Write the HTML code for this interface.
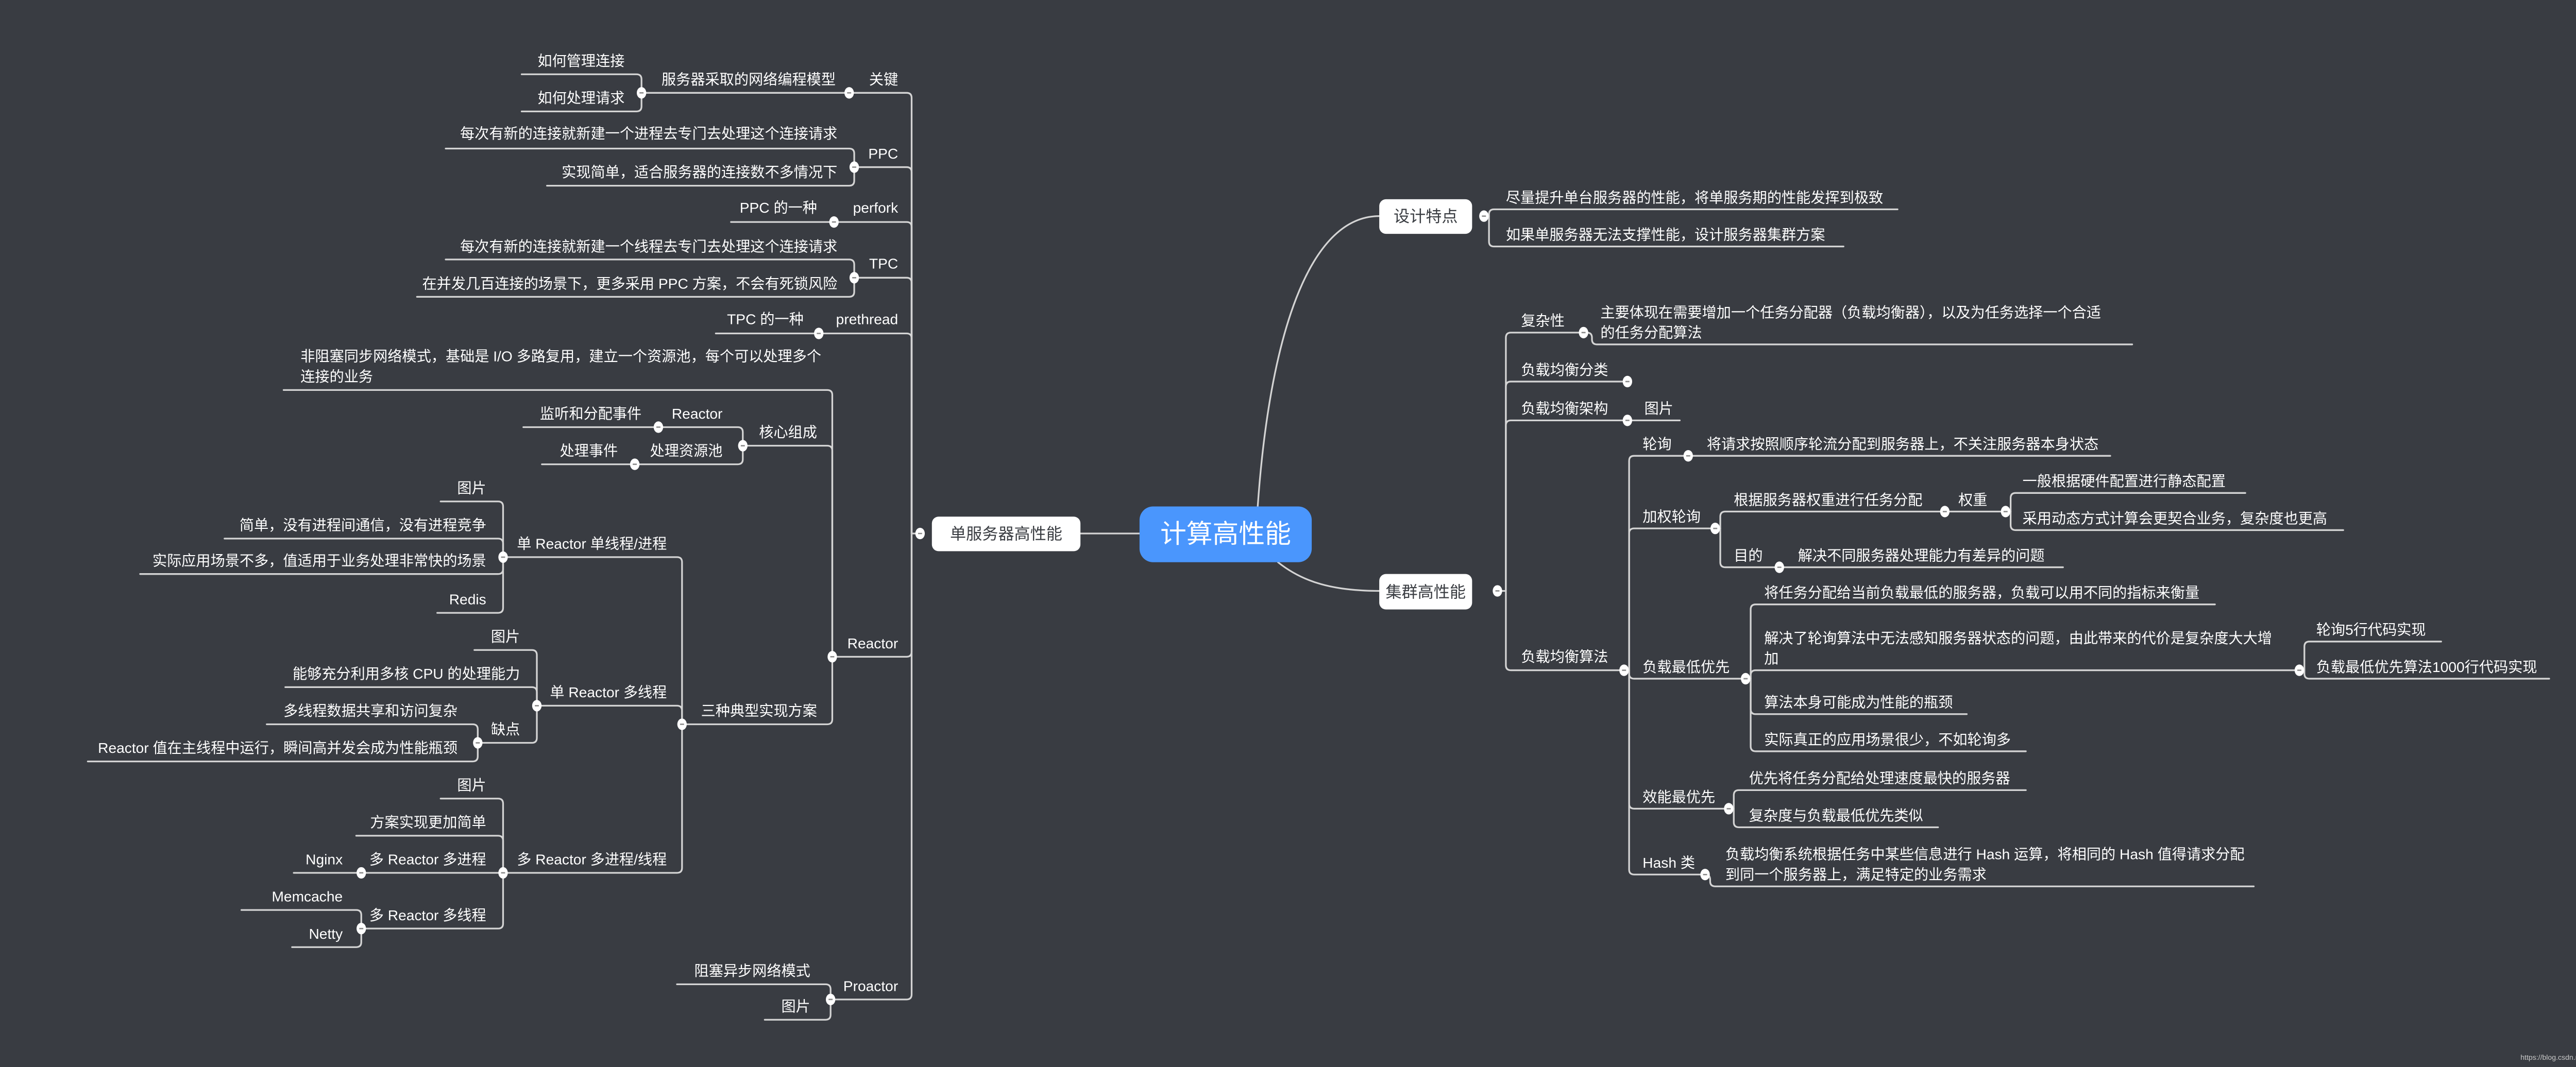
<!DOCTYPE html>
<html><head><meta charset="utf-8"><style>
html,body{margin:0;padding:0;background:#393c42;}
svg{display:block}
text{font-family:"Liberation Sans","Noto Sans CJK SC",sans-serif;font-size:8.6px;fill:#ffffff}
.e{text-anchor:end}
.ln{fill:none;stroke:#d4d4d4;stroke-width:1;stroke-linecap:round}
.c{fill:#ffffff}
.d{stroke:#8a8a8a;stroke-width:0.8}
</style></head><body>
<svg width="5138" height="2072" viewBox="0 0 1568 632" preserveAspectRatio="none" xmlns="http://www.w3.org/2000/svg">
<rect width="1568" height="632" fill="#393c42"/>
<g class="ln">
<path d="M640 316 H675"/>
<path d="M745 300 C752 200 775 128 817 128"/>
<path d="M757 333 C772 345 790 350 817 350"/>
<path d="M545 316 H540"/>
<path d="M503 55 H537 Q540 55 540 58 V316"/>
<path d="M506 99 H537 Q540 99 540 102 V316"/>
<path d="M494 131.5 H537 Q540 131.5 540 134.5 V316"/>
<path d="M506 164.5 H537 Q540 164.5 540 167.5 V316"/>
<path d="M485 197.5 H537 Q540 197.5 540 200.5 V316"/>
<path d="M493 389 H537 Q540 389 540 386 V316"/>
<path d="M492 592 H537 Q540 592 540 589 V316"/>
<path d="M380 55 H503"/>
<path d="M309 44 H377 Q380 44 380 47 V55"/>
<path d="M309 66 H377 Q380 66 380 63 V55"/>
<path d="M264 88 H503 Q506 88 506 91 V99"/>
<path d="M324 110 H503 Q506 110 506 107 V99"/>
<path d="M433 131.5 H494"/>
<path d="M264 153.7 H503 Q506 153.7 506 156.7 V164.5"/>
<path d="M247 175.8 H503 Q506 175.8 506 172.8 V164.5"/>
<path d="M424 197.5 H485"/>
<path d="M168 231 H490 Q493 231 493 234 V389"/>
<path d="M440 264 H490 Q493 264 493 267 V389"/>
<path d="M404 429 H490 Q493 429 493 426 V389"/>
<path d="M390 253 H437 Q440 253 440 256 V264"/>
<path d="M376 275 H437 Q440 275 440 272 V264"/>
<path d="M310 253 H390"/>
<path d="M321 275 H376"/>
<path d="M298 330 H401 Q404 330 404 333 V429"/>
<path d="M318 418 H401 Q404 418 404 421 V429"/>
<path d="M298 517 H401 Q404 517 404 514 V429"/>
<path d="M261 297 H295 Q298 297 298 300 V330"/>
<path d="M133 319 H295 Q298 319 298 322 V330"/>
<path d="M83 340 H295 Q298 340 298 337 V330"/>
<path d="M259 363 H295 Q298 363 298 360 V330"/>
<path d="M281 385 H315 Q318 385 318 388 V418"/>
<path d="M169 407 H315 Q318 407 318 410 V418"/>
<path d="M283 440 H315 Q318 440 318 437 V418"/>
<path d="M158 429 H280 Q283 429 283 432 V440"/>
<path d="M52 451 H280 Q283 451 283 448 V440"/>
<path d="M261 473 H295 Q298 473 298 476 V517"/>
<path d="M211 495 H295 Q298 495 298 498 V517"/>
<path d="M214 517 H298"/>
<path d="M214 550 H295 Q298 550 298 547 V517"/>
<path d="M174 517 H214"/>
<path d="M143 539 H211 Q214 539 214 542 V550"/>
<path d="M173 561 H211 Q214 561 214 558 V550"/>
<path d="M401 583 H489 Q492 583 492 586 V592"/>
<path d="M453 604 H489 Q492 604 492 601 V592"/>
<path d="M879 128 H882"/>
<path d="M1124 124 H885 Q882 124 882 127 V128"/>
<path d="M1092 146 H885 Q882 146 882 143 V128"/>
<path d="M887 350 H892"/>
<path d="M938 197 H895 Q892 197 892 200 V350"/>
<path d="M964 226 H895 Q892 226 892 229 V350"/>
<path d="M964 249 H895 Q892 249 892 252 V350"/>
<path d="M962 397 H895 Q892 397 892 394 V350"/>
<path d="M938 197 H940 Q943 197 943 200 V201 Q943 204 946 204 H1263"/>
<path d="M964 249 H995"/>
<path d="M962 397 H965"/>
<path d="M1000 270 H968 Q965 270 965 273 V397"/>
<path d="M1016 313 H968 Q965 313 965 316 V397"/>
<path d="M1034 402 H968 Q965 402 965 399 V397"/>
<path d="M1024 479 H968 Q965 479 965 476 V397"/>
<path d="M1010 518 H968 Q965 518 965 515 V397"/>
<path d="M1000 270 H1250"/>
<path d="M1016 313 H1019"/>
<path d="M1152 303 H1022 Q1019 303 1019 306 V313"/>
<path d="M1054 336 H1022 Q1019 336 1019 333 V313"/>
<path d="M1152 303 H1188"/>
<path d="M1188 303 H1191"/>
<path d="M1330 292 H1194 Q1191 292 1191 295 V303"/>
<path d="M1388 314 H1194 Q1191 314 1191 311 V303"/>
<path d="M1054 336 H1222"/>
<path d="M1034 402 H1037"/>
<path d="M1312 358 H1040 Q1037 358 1037 361 V402"/>
<path d="M1362 397 H1040 Q1037 397 1037 400 V402"/>
<path d="M1165 423 H1040 Q1037 423 1037 420 V402"/>
<path d="M1200 445 H1040 Q1037 445 1037 442 V402"/>
<path d="M1362 397 H1365"/>
<path d="M1446 380 H1368 Q1365 380 1365 383 V397"/>
<path d="M1510 402 H1368 Q1365 402 1365 399 V397"/>
<path d="M1024 479 H1027"/>
<path d="M1200 468 H1030 Q1027 468 1027 471 V479"/>
<path d="M1148 490 H1030 Q1027 490 1027 487 V479"/>
<path d="M1010 518 Q1013 518 1013 521 V522 Q1013 525 1016 525 H1335"/>
</g>

<rect x="675" y="300" width="102" height="33" rx="8" fill="#4a96fd"/>
<text x="726" y="321.5" style="font-size:15.5px;text-anchor:middle">计算高性能</text>
<rect x="552" y="306" width="88" height="20.5" rx="4" fill="#ffffff"/>
<text x="596" y="319.5" style="font-size:9.5px;text-anchor:middle;fill:#3a3d42">单服务器高性能</text>
<rect x="817" y="118" width="55" height="20.5" rx="4" fill="#ffffff"/>
<text x="844.5" y="131.5" style="font-size:9.5px;text-anchor:middle;fill:#3a3d42">设计特点</text>
<rect x="817" y="340" width="55" height="21" rx="4" fill="#ffffff"/>
<text x="844.5" y="354" style="font-size:9.5px;text-anchor:middle;fill:#3a3d42">集群高性能</text>

<g>
<ellipse class="c" cx="503" cy="55" rx="2.8" ry="3.4"/><ellipse class="c" cx="380" cy="55" rx="2.8" ry="3.4"/>
<ellipse class="c" cx="506" cy="99" rx="2.8" ry="3.4"/><ellipse class="c" cx="494" cy="131.5" rx="2.8" ry="3.4"/>
<ellipse class="c" cx="506" cy="164.5" rx="2.8" ry="3.4"/><ellipse class="c" cx="485" cy="197.5" rx="2.8" ry="3.4"/>
<ellipse class="c" cx="493" cy="389" rx="2.8" ry="3.4"/><ellipse class="c" cx="440" cy="264" rx="2.8" ry="3.4"/>
<ellipse class="c" cx="390" cy="253" rx="2.8" ry="3.4"/><ellipse class="c" cx="376" cy="275" rx="2.8" ry="3.4"/>
<ellipse class="c" cx="404" cy="429" rx="2.8" ry="3.4"/><ellipse class="c" cx="298" cy="330" rx="2.8" ry="3.4"/>
<ellipse class="c" cx="318" cy="418" rx="2.8" ry="3.4"/><ellipse class="c" cx="283" cy="440" rx="2.8" ry="3.4"/>
<ellipse class="c" cx="298" cy="517" rx="2.8" ry="3.4"/><ellipse class="c" cx="214" cy="517" rx="2.8" ry="3.4"/>
<ellipse class="c" cx="214" cy="550" rx="2.8" ry="3.4"/><ellipse class="c" cx="492" cy="592" rx="2.8" ry="3.4"/>
<ellipse class="c" cx="545" cy="316" rx="2.8" ry="3.4"/>
<ellipse class="c" cx="879" cy="128" rx="2.8" ry="3.4"/><ellipse class="c" cx="887" cy="350" rx="2.8" ry="3.4"/>
<ellipse class="c" cx="938" cy="197" rx="2.8" ry="3.4"/><ellipse class="c" cx="964" cy="226" rx="2.8" ry="3.4"/>
<ellipse class="c" cx="964" cy="249" rx="2.8" ry="3.4"/><ellipse class="c" cx="962" cy="397" rx="2.8" ry="3.4"/>
<ellipse class="c" cx="1000" cy="270" rx="2.8" ry="3.4"/><ellipse class="c" cx="1016" cy="313" rx="2.8" ry="3.4"/>
<ellipse class="c" cx="1152" cy="303" rx="2.8" ry="3.4"/><ellipse class="c" cx="1188" cy="303" rx="2.8" ry="3.4"/>
<ellipse class="c" cx="1054" cy="336" rx="2.8" ry="3.4"/><ellipse class="c" cx="1034" cy="402" rx="2.8" ry="3.4"/>
<ellipse class="c" cx="1362" cy="397" rx="2.8" ry="3.4"/><ellipse class="c" cx="1024" cy="479" rx="2.8" ry="3.4"/>
<ellipse class="c" cx="1010" cy="518" rx="2.8" ry="3.4"/>
</g>
<g class="d">
<path d="M501.8 55H504.2M378.8 55H381.2M504.8 99H507.2M492.8 131.5H495.2M504.8 164.5H507.2M483.8 197.5H486.2M491.8 389H494.2M438.8 264H441.2M388.8 253H391.2M374.8 275H377.2M402.8 429H405.2M296.8 330H299.2M316.8 418H319.2M281.8 440H284.2M296.8 517H299.2M212.8 517H215.2M212.8 550H215.2M490.8 592H493.2M543.8 316H546.2M877.8 128H880.2M885.8 350H888.2M936.8 197H939.2M962.8 226H965.2M962.8 249H965.2M960.8 397H963.2M998.8 270H1001.2M1014.8 313H1017.2M1150.8 303H1153.2M1186.8 303H1189.2M1052.8 336H1055.2M1032.8 402H1035.2M1360.8 397H1363.2M1022.8 479H1025.2M1008.8 518H1011.2"/>
</g>

<text class="e" x="532" y="50">关键</text>
<text class="e" x="495" y="50">服务器采取的网络编程模型</text>
<text class="e" x="370" y="39">如何管理连接</text>
<text class="e" x="370" y="61">如何处理请求</text>
<text class="e" x="532" y="94">PPC</text>
<text class="e" x="496" y="82">每次有新的连接就新建一个进程去专门去处理这个连接请求</text>
<text class="e" x="496" y="105">实现简单，适合服务器的连接数不多情况下</text>
<text class="e" x="532" y="126">perfork</text>
<text class="e" x="484" y="126">PPC 的一种</text>
<text class="e" x="532" y="159">TPC</text>
<text class="e" x="496" y="149">每次有新的连接就新建一个线程去专门去处理这个连接请求</text>
<text class="e" x="496" y="171">在并发几百连接的场景下，更多采用 PPC 方案，不会有死锁风险</text>
<text class="e" x="532" y="192">prethread</text>
<text class="e" x="476" y="192">TPC 的一种</text>
<text class="e" x="532" y="384">Reactor</text>
<text x="178" y="214">非阻塞同步网络模式，基础是 I/O 多路复用，建立一个资源池，每个可以处理多个</text>
<text x="178" y="226">连接的业务</text>
<text class="e" x="484" y="259">核心组成</text>
<text class="e" x="428" y="248">Reactor</text>
<text class="e" x="380" y="248">监听和分配事件</text>
<text class="e" x="428" y="270">处理资源池</text>
<text class="e" x="366" y="270">处理事件</text>
<text class="e" x="484" y="424">三种典型实现方案</text>
<text class="e" x="395" y="325">单 Reactor 单线程/进程</text>
<text class="e" x="288" y="292">图片</text>
<text class="e" x="288" y="314">简单，没有进程间通信，没有进程竞争</text>
<text class="e" x="288" y="335">实际应用场景不多，值适用于业务处理非常快的场景</text>
<text class="e" x="288" y="358">Redis</text>
<text class="e" x="395" y="413">单 Reactor 多线程</text>
<text class="e" x="308" y="380">图片</text>
<text class="e" x="308" y="402">能够充分利用多核 CPU 的处理能力</text>
<text class="e" x="308" y="435">缺点</text>
<text class="e" x="271" y="424">多线程数据共享和访问复杂</text>
<text class="e" x="271" y="446">Reactor 值在主线程中运行，瞬间高并发会成为性能瓶颈</text>
<text class="e" x="395" y="512">多 Reactor 多进程/线程</text>
<text class="e" x="288" y="468">图片</text>
<text class="e" x="288" y="490">方案实现更加简单</text>
<text class="e" x="288" y="512">多 Reactor 多进程</text>
<text class="e" x="203" y="512">Nginx</text>
<text class="e" x="288" y="545">多 Reactor 多线程</text>
<text class="e" x="203" y="534">Memcache</text>
<text class="e" x="203" y="556">Netty</text>
<text class="e" x="532" y="587">Proactor</text>
<text class="e" x="480" y="578">阻塞异步网络模式</text>
<text class="e" x="480" y="599">图片</text>

<text x="892" y="120">尽量提升单台服务器的性能，将单服务期的性能发挥到极致</text>
<text x="892" y="142">如果单服务器无法支撑性能，设计服务器集群方案</text>
<text x="901" y="193">复杂性</text>
<text x="948" y="188">主要体现在需要增加一个任务分配器（负载均衡器），以及为任务选择一个合适</text>
<text x="948" y="200">的任务分配算法</text>
<text x="901" y="222">负载均衡分类</text>
<text x="901" y="245">负载均衡架构</text>
<text x="974" y="245">图片</text>
<text x="901" y="392">负载均衡算法</text>
<text x="973" y="266">轮询</text>
<text x="1011" y="266">将请求按照顺序轮流分配到服务器上，不关注服务器本身状态</text>
<text x="973" y="309">加权轮询</text>
<text x="1027" y="299">根据服务器权重进行任务分配</text>
<text x="1160" y="299">权重</text>
<text x="1198" y="288">一般根据硬件配置进行静态配置</text>
<text x="1198" y="310">采用动态方式计算会更契合业务，复杂度也更高</text>
<text x="1027" y="332">目的</text>
<text x="1065" y="332">解决不同服务器处理能力有差异的问题</text>
<text x="973" y="398">负载最低优先</text>
<text x="1045" y="354">将任务分配给当前负载最低的服务器，负载可以用不同的指标来衡量</text>
<text x="1045" y="381">解决了轮询算法中无法感知服务器状态的问题，由此带来的代价是复杂度大大增</text>
<text x="1045" y="393">加</text>
<text x="1372" y="376">轮询5行代码实现</text>
<text x="1372" y="398">负载最低优先算法1000行代码实现</text>
<text x="1045" y="419">算法本身可能成为性能的瓶颈</text>
<text x="1045" y="441">实际真正的应用场景很少，不如轮询多</text>
<text x="973" y="475">效能最优先</text>
<text x="1036" y="464">优先将任务分配给处理速度最快的服务器</text>
<text x="1036" y="486">复杂度与负载最低优先类似</text>
<text x="973" y="514">Hash 类</text>
<text x="1022" y="509">负载均衡系统根据任务中某些信息进行 Hash 运算，将相同的 Hash 值得请求分配</text>
<text x="1022" y="521">到同一个服务器上，满足特定的业务需求</text>

<text x="1493" y="627.7" style="font-size:4.3px;fill:#c8c8c8">https://blog.csdn.net/u014773418</text>
</svg>
</body></html>
